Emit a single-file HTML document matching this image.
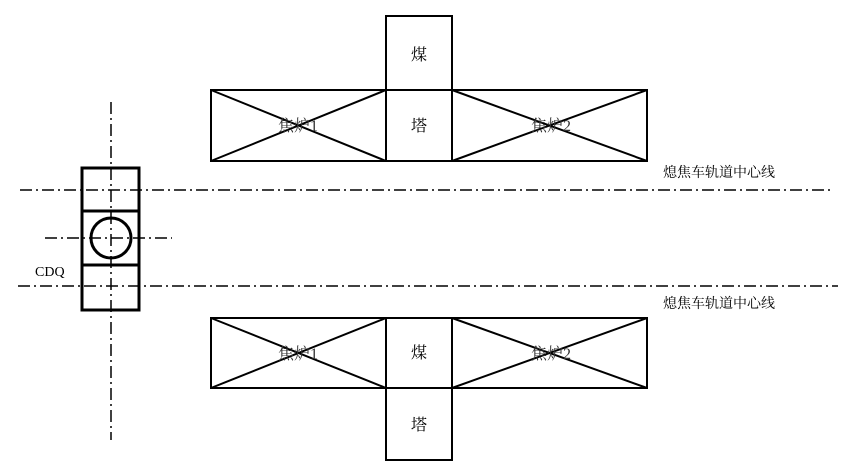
<html><body style="margin:0;background:#fff">
<svg width="860" height="469" xmlns="http://www.w3.org/2000/svg" font-family="Liberation Serif, Noto Serif CJK SC, serif">
<g stroke="#000" stroke-width="2" fill="none">
<rect x="211" y="90" width="436" height="71"/>
<line x1="386" y1="90" x2="386" y2="161"/><line x1="452" y1="90" x2="452" y2="161"/>
<rect x="386" y="16" width="66" height="74"/>
<line x1="211" y1="90" x2="386" y2="161"/><line x1="211" y1="161" x2="386" y2="90"/>
<line x1="452" y1="90" x2="647" y2="161"/><line x1="452" y1="161" x2="647" y2="90"/>
<rect x="211" y="318" width="436" height="70"/>
<line x1="386" y1="318" x2="386" y2="388"/><line x1="452" y1="318" x2="452" y2="388"/>
<rect x="386" y="388" width="66" height="72"/>
<line x1="211" y1="318" x2="386" y2="388"/><line x1="211" y1="388" x2="386" y2="318"/>
<line x1="452" y1="318" x2="647" y2="388"/><line x1="452" y1="388" x2="647" y2="318"/>
<rect x="82" y="168" width="57" height="142" stroke-width="3"/>
<line x1="82" y1="211" x2="139" y2="211" stroke-width="3"/><line x1="82" y1="265" x2="139" y2="265" stroke-width="3"/>
<circle cx="111" cy="238" r="20" stroke-width="3"/>
</g>
<g stroke="#000" stroke-width="1.5" stroke-dasharray="12,4,2,4">
<line x1="20" y1="190" x2="833" y2="190"/>
<line x1="18" y1="286" x2="838" y2="286"/>
<line x1="45" y1="238" x2="172" y2="238"/>
<line x1="111" y1="102" x2="111" y2="440"/>
</g>
<g font-size="16" text-anchor="middle" fill="#000">
<text x="419" y="60">煤</text><text x="419" y="131">塔</text>
<text x="419" y="358">煤</text><text x="419" y="430">塔</text>
</g>
<g font-size="16" text-anchor="middle" fill="#333">
<text x="298" y="131">焦炉1</text><text x="551" y="131">焦炉2</text>
<text x="298" y="359">焦炉1</text><text x="551" y="359">焦炉2</text>
</g>
<g font-size="14" fill="#000">
<text x="663" y="177">熄焦车轨道中心线</text>
<text x="663" y="308">熄焦车轨道中心线</text>
<text x="35" y="276">CDQ</text>
</g>
</svg>
</body></html>
